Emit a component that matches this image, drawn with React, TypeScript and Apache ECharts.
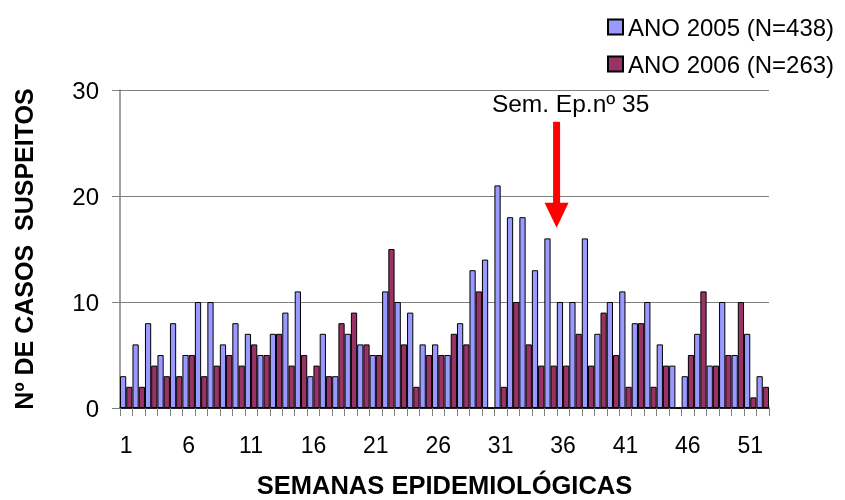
import React, { useEffect, useRef } from "react";
import * as echarts from "echarts";

const weeks: string[] = Array.from({ length: 52 }, (_, i) => String(i + 1));
const ano2005: number[] = [
  3, 6, 8, 5, 8, 5, 10, 10, 6, 8, 7, 5, 7, 9, 11, 3, 7, 3,
  7, 6, 5, 11, 10, 9, 6, 6, 5, 8, 13, 14, 21, 18, 18, 13, 16, 10,
  10, 16, 7, 10, 11, 8, 10, 6, 4, 3, 7, 4, 10, 5, 7, 3,
];
const ano2006: number[] = [
  2, 2, 4, 3, 3, 5, 3, 4, 5, 4, 6, 5, 7, 4, 5, 4, 3, 8,
  9, 6, 5, 15, 6, 2, 5, 5, 7, 6, 11, 0, 2, 10, 6, 4, 4, 4,
  7, 4, 9, 5, 2, 8, 2, 4, 0, 5, 11, 4, 5, 10, 1, 2,
];
const seriesNames = ["ANO 2005 (N=438)", "ANO 2006 (N=263)"];
const yTicks = { min: 0, max: 30, interval: 10 };
const markWeek = "35";
const arrowTop = 27;
const arrowTip = 17;
const annotation = "Sem. Ep.nº 35";

const FONT = "'Liberation Sans', Arial, sans-serif";

export default function App() {
  const ref = useRef<HTMLDivElement>(null);
  useEffect(() => {
    if (!ref.current) return;
    const chart = echarts.init(ref.current, undefined, { renderer: "svg" });
    chart.setOption({
      animation: false,
      textStyle: { fontFamily: FONT },
      legend: {
        orient: "vertical",
        left: 602,
        top: 10,
        itemWidth: 15,
        itemHeight: 15,
        itemGap: 13,
        icon: "rect",
        textStyle: { fontSize: 24, color: "#000", fontFamily: FONT },
        data: seriesNames,
      },
      grid: {
        left: 120,
        right: 76,
        top: 90,
        bottom: 92,
        containLabel: false,
        outerBoundsMode: "none",
      },
      xAxis: {
        type: "category",
        data: weeks,
        name: "SEMANAS EPIDEMIOLÓGICAS",
        nameLocation: "middle",
        nameGap: 64,
        nameTextStyle: { fontSize: 25.5, fontWeight: "bold", color: "#000", fontFamily: FONT },
        axisLine: { lineStyle: { color: "#000", width: 1.5 } },
        axisTick: { show: true, interval: 0, length: 8, lineStyle: { color: "#808080" } },
        axisLabel: { interval: 4, fontSize: 23, color: "#000", margin: 25, fontFamily: FONT },
      },
      yAxis: {
        type: "value",
        min: yTicks.min,
        max: yTicks.max,
        interval: yTicks.interval,
        name: "Nº DE CASOS  SUSPEITOS",
        nameLocation: "middle",
        nameGap: 84,
        nameTextStyle: { fontSize: 25, fontWeight: "bold", color: "#000", fontFamily: FONT },
        axisLine: { show: true, lineStyle: { color: "#808080", width: 1.5 } },
        axisTick: { show: true, length: 8, lineStyle: { color: "#808080" } },
        axisLabel: { fontSize: 24, color: "#000", margin: 21, fontFamily: FONT },
        splitLine: { lineStyle: { color: "#808080", width: 1 } },
      },
      series: [
        {
          name: seriesNames[0],
          type: "bar",
          data: ano2005,
          barGap: "0%",
          barCategoryGap: "0%",
          itemStyle: { color: "#9999FF", borderColor: "#000", borderWidth: 1 },
        },
        {
          name: seriesNames[1],
          type: "bar",
          data: ano2006,
          barGap: "0%",
          barCategoryGap: "0%",
          itemStyle: { color: "#993366", borderColor: "#000", borderWidth: 1 },
        },
      ],
    });
    const top = chart.convertToPixel({ xAxisIndex: 0, yAxisIndex: 0 }, [markWeek, arrowTop]) as number[];
    const tip = chart.convertToPixel({ xAxisIndex: 0, yAxisIndex: 0 }, [markWeek, arrowTip]) as number[];
    const ax = top[0] + 6;
    chart.setOption({
      graphic: [
        {
          type: "rect",
          shape: { x: ax - 3.5, y: top[1], width: 7, height: tip[1] - top[1] - 22 },
          style: { fill: "#FF0000" },
        },
        {
          type: "polygon",
          shape: { points: [[ax - 12, tip[1] - 25], [ax + 12, tip[1] - 25], [ax, tip[1]]] },
          style: { fill: "#FF0000" },
        },
        {
          type: "text",
          x: ax + 14,
          y: top[1] - 18,
          style: {
            text: annotation,
            fontSize: 24.5,
            fill: "#000",
            fontFamily: FONT,
            textAlign: "center",
            textVerticalAlign: "middle",
          },
        },
      ],
    });
    return () => chart.dispose();
  }, []);
  return (
    <div
      ref={ref}
      style={{ position: "fixed", left: 0, top: 0, width: 845, height: 500 }}
    />
  );
}
